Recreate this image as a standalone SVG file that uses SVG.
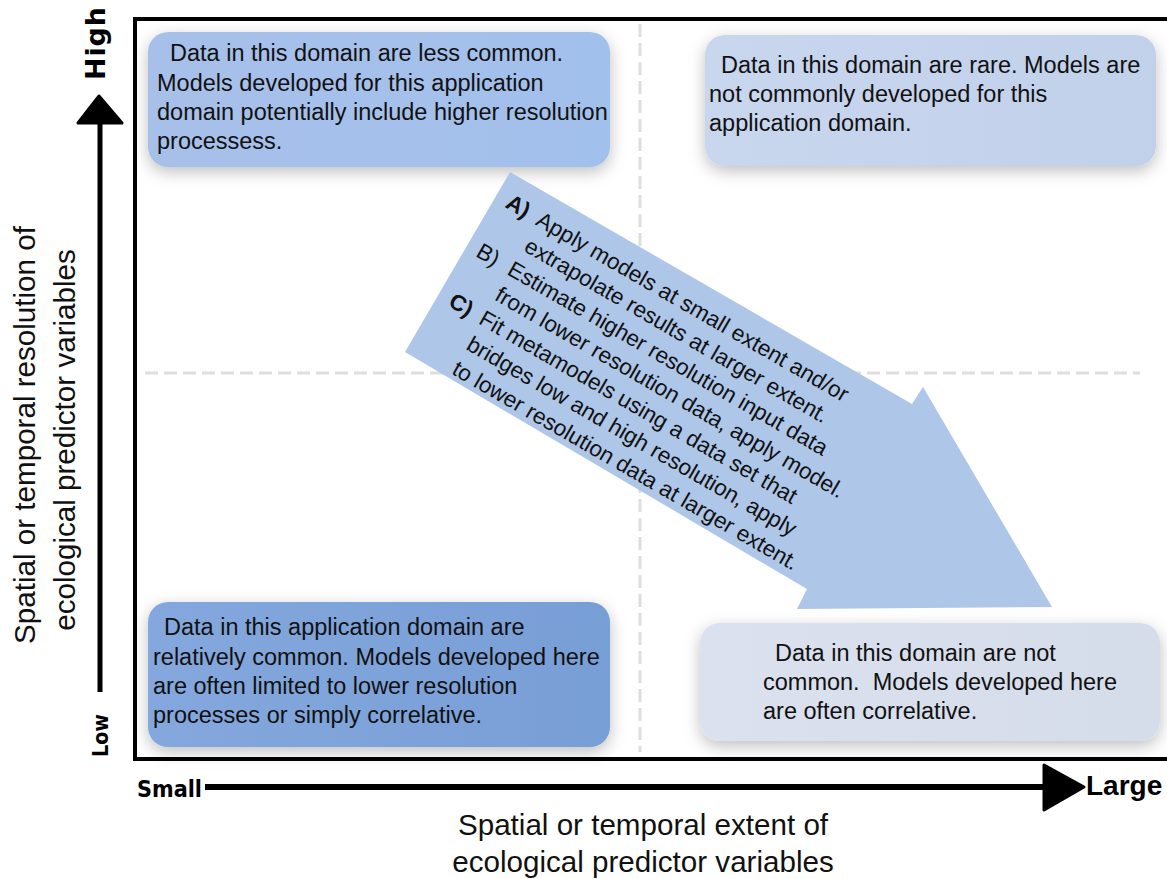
<svg xmlns="http://www.w3.org/2000/svg" width="1167" height="879" viewBox="0 0 1167 879">
<defs>
<filter id="sh" x="-10%" y="-20%" width="120%" height="150%">
<feDropShadow dx="0" dy="5" stdDeviation="8" flood-color="#000" flood-opacity="0.25"/>
</filter>
<linearGradient id="gTL" x1="0" y1="0" x2="1" y2="0"><stop offset="0" stop-color="#a7c0ea"/><stop offset="1" stop-color="#a2c0ec"/></linearGradient>
<linearGradient id="gTR" x1="0" y1="0" x2="1" y2="0"><stop offset="0" stop-color="#c8d6ee"/><stop offset="1" stop-color="#c2d1ea"/></linearGradient>
<linearGradient id="gBL" x1="0" y1="0" x2="1" y2="0"><stop offset="0" stop-color="#84a8dd"/><stop offset="1" stop-color="#789ed6"/></linearGradient>
<linearGradient id="gBR" x1="0" y1="0" x2="1" y2="0"><stop offset="0" stop-color="#dbe1ee"/><stop offset="1" stop-color="#d5dcea"/></linearGradient>
<style>
.box{filter:url(#sh);}
.t{font-family:"Liberation Sans",Arial,sans-serif;font-size:23.5px;fill:#111;}
.at{font-family:"Liberation Sans",Arial,sans-serif;font-size:22.5px;fill:#111;}
.ax{font-family:"Liberation Sans",Arial,sans-serif;font-size:29.6px;fill:#111;text-anchor:middle;}
.lb{font-family:"DejaVu Sans",sans-serif;font-weight:bold;fill:#000;}
.dash{stroke:#dedede;stroke-width:3;stroke-dasharray:13 6;fill:none;}
.axis{stroke:#000;fill:none;}
.head{fill:#000;stroke:#000;stroke-width:3;stroke-linejoin:round;}
</style>
</defs>
<rect x="0" y="0" width="1167" height="879" fill="#fff"/>
<rect id="frame" x="135" y="19" width="1040" height="740" fill="#fff" stroke="#000" stroke-width="4"/>
<g id="grid">
<line class="dash" x1="640" y1="24" x2="640" y2="752"/>
<line class="dash" x1="145" y1="373" x2="1140" y2="373"/>
</g>
<g id="box-top-left">
<rect class="box" x="148" y="32" width="462" height="135" rx="20" fill="url(#gTL)"/>
<text class="t"><tspan x="170" y="61">Data in this domain are less common.</tspan><tspan x="157" y="90.5">Models developed for this application</tspan><tspan x="157" y="120">domain potentially include higher resolution</tspan><tspan x="157" y="149">processess.</tspan></text>
</g>
<g id="box-top-right">
<rect class="box" x="705" y="35" width="451" height="131" rx="20" fill="url(#gTR)"/>
<text class="t"><tspan x="721" y="73">Data in this domain are rare. Models are</tspan><tspan x="709" y="102">not commonly developed for this</tspan><tspan x="709" y="131">application domain.</tspan></text>
</g>
<g id="big-arrow">
<polygon points="510,172 912,404 923,387 1052,607 797,609 807,589 405,352" fill="#aec6e8"/>
<g transform="rotate(30)">
<text class="at"><tspan x="540" y="-73" font-weight="bold">A)</tspan><tspan x="575" y="-73">Apply models at small extent and/or</tspan><tspan x="578" y="-44.5">extrapolate results at larger extent.</tspan><tspan x="539" y="-16">B)</tspan><tspan x="575" y="-16">Estimate higher resolution input data</tspan><tspan x="577" y="12.5">from lower resolution data, apply model.</tspan><tspan x="540" y="41" font-weight="bold">C)</tspan><tspan x="575" y="41">Fit metamodels using a data set that</tspan><tspan x="577" y="69.5">bridges low and high resolution, apply</tspan><tspan x="577" y="98">to lower resolution data at larger extent.</tspan></text>
</g>
</g>
<g id="box-bottom-left">
<rect class="box" x="148" y="602" width="462" height="145" rx="20" fill="url(#gBL)"/>
<text class="t"><tspan x="164" y="635">Data in this application domain are</tspan><tspan x="153" y="665">relatively common. Models developed here</tspan><tspan x="153" y="694">are often limited to lower resolution</tspan><tspan x="153" y="723">processes or simply correlative.</tspan></text>
</g>
<g id="box-bottom-right">
<rect class="box" x="700" y="623" width="460" height="118" rx="20" fill="url(#gBR)"/>
<text class="t" xml:space="preserve"><tspan x="775" y="661">Data in this domain are not</tspan><tspan x="763" y="690">common.  Models developed here</tspan><tspan x="763" y="719">are often correlative.</tspan></text>
</g>
<g id="connectors">
<line class="axis" x1="100" y1="120" x2="100" y2="692" stroke-width="5"/>
<polygon class="head" points="99,96 122,123 78,123"/>
<line class="axis" x1="205" y1="787" x2="1048" y2="787" stroke-width="6"/>
<polygon class="head" points="1044,765 1084,787 1044,810"/>
</g>
<g id="labels">
<text class="lb" font-size="27" transform="rotate(-90)" x="-80" y="105" textLength="73" lengthAdjust="spacing">High</text>
<text class="lb" font-size="21" transform="rotate(-90)" x="-757" y="108" textLength="43" lengthAdjust="spacingAndGlyphs">Low</text>
<text class="lb" font-size="22.5" x="137" y="797" textLength="65" lengthAdjust="spacingAndGlyphs">Small</text>
<text font-family="Liberation Sans, Arial, sans-serif" font-weight="bold" font-size="28" x="1086" y="795" fill="#000">Large</text>
<text class="ax"><tspan x="643" y="835">Spatial or temporal extent of</tspan><tspan x="643" y="872">ecological predictor variables</tspan></text>
<g transform="rotate(-90)">
<text class="ax"><tspan x="-435" y="35">Spatial or temporal resolution of</tspan><tspan x="-440" y="75">ecological predictor variables</tspan></text>
</g>
</g>
</svg>
